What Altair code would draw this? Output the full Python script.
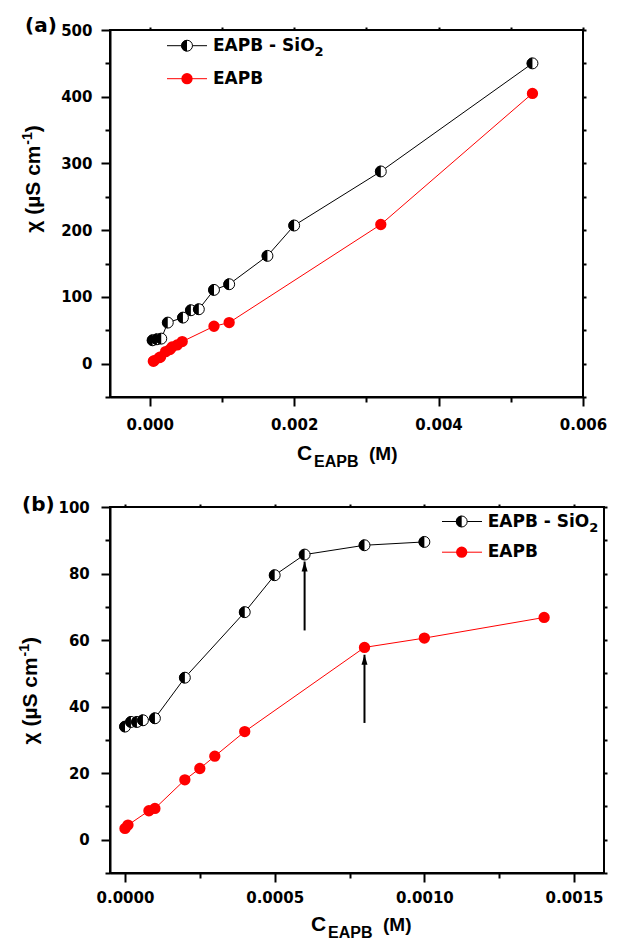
import altair as alt
import pandas as pd

# ---------------- data ----------------
# panel (a)
a_sio2_c = [0.00004, 0.0001, 0.00016, 0.00025, 0.00046, 0.00057, 0.00068, 0.00089, 0.0011, 0.00163, 0.002, 0.0032, 0.0053]
a_sio2_chi = [35, 36.5, 37.5, 61.5, 69, 80, 81.5, 110.5, 119, 161.5, 207, 288, 450]
a_eapb_c = [0.00005, 0.00006, 0.00013, 0.00015, 0.00022, 0.00028, 0.00031, 0.00038, 0.00045, 0.00089, 0.0011, 0.0032, 0.0053]
a_eapb_chi = [3.5, 4.5, 9, 10, 18, 21, 25, 28, 33, 56, 61.5, 208.5, 405]

# panel (b)
b_sio2_c = [0.0, 0.00002, 0.00004, 0.00006, 0.0001, 0.0002, 0.0004, 0.0005, 0.0006, 0.0008, 0.001]
b_sio2_chi = [34.0, 35.4, 35.4, 35.9, 36.5, 48.7, 68.4, 79.5, 85.7, 88.5, 89.5]
b_eapb_c = [0.0, 0.00001, 0.00008, 0.0001, 0.0002, 0.00025, 0.0003, 0.0004, 0.0008, 0.001, 0.0014]
b_eapb_chi = [3.4, 4.4, 8.7, 9.4, 18.0, 21.4, 25.1, 32.5, 57.8, 60.6, 66.8]

# arrows in panel (b)
arrow_c = [0.0006, 0.0008]
arrow_from = [62.9, 35.1]
arrow_to = [83.6, 55.6]

# texts
series_names = ["EAPB - SiO", "EAPB"]
series_sub = "2"
panel_tags = ["(a)", "(b)"]
x_title_parts = ["C", "EAPB", "(M)"]
y_title_parts = ["\u03c7 (\u00b5S cm", "-1", ")"]

# axis ticks (major + minor)
a_x_ticks = [0.0, 0.001, 0.002, 0.003, 0.004, 0.005, 0.006]
a_y_ticks = [-50, 0, 50, 100, 150, 200, 250, 300, 350, 400, 450, 500]
b_x_ticks = [0.0, 0.00025, 0.0005, 0.00075, 0.001, 0.00125, 0.0015]
b_y_ticks = [-10, 0, 10, 20, 30, 40, 50, 60, 70, 80, 90, 100]

LAB = "DejaVu Sans"
TIT = "Liberation Sans"
HALF = "M 0 -1 A 1 1 0 0 0 0 1 Z"
TRI = "M 0 -1 L 0.6 1 L -0.6 1 Z"


def major(step):
    return f"abs(datum.value/{step} - round(datum.value/{step})) < 1e-6"


def text_layer(t, x, y, fs, font=LAB, angle=0, align="left"):
    props = dict(align=align, baseline="middle", font=font, fontWeight="bold",
                 fontSize=fs, color="black")
    if angle:
        props["angle"] = angle
    return alt.Chart(pd.DataFrame({"t": [t]})).mark_text(**props).encode(
        x=alt.value(x), y=alt.value(y), text="t:N")


def panel(sc, sy, ec, ey, xdom, ydom, xt, yt, xstep, ystep, xfmt, W, H,
          red_interp, lpx, lpy, leg, tag, xtit, ytit, arrows=None):
    xs = alt.Scale(domain=xdom, nice=False, zero=False)
    ys = alt.Scale(domain=ydom, nice=False, zero=False)
    ax_b = alt.Axis(orient="bottom", values=xt, title=None, grid=False,
                    labelExpr=f"{major(xstep)} ? format(datum.value, '{xfmt}') : ''",
                    tickSize={"condition": {"test": major(xstep), "value": 9}, "value": 5},
                    labelPadding=lpx, labelFlush=False, labelOverlap=False)
    ax_l = alt.Axis(orient="left", values=yt, title=None, grid=False,
                    labelExpr=f"{major(ystep)} ? format(datum.value, 'd') : ''",
                    tickSize={"condition": {"test": major(ystep), "value": 9}, "value": 5},
                    labelPadding=lpy, labelOverlap=False, labelFlush=False)
    ax_t = alt.Axis(orient="top", values=xt, title=None, grid=False, labels=False,
                    tickSize=3, domain=False)
    ax_r = alt.Axis(orient="right", values=yt, title=None, grid=False, labels=False,
                    tickSize=3, domain=False)
    ds = pd.DataFrame({"x": sc, "y": sy})
    de = pd.DataFrame({"x": ec, "y": ey})

    def X(axis=None):
        return alt.X("x:Q", scale=xs, axis=axis)

    def Y(axis=None):
        return alt.Y("y:Q", scale=ys, axis=axis)

    layers = [
        alt.Chart(ds).mark_line(color="black", strokeWidth=1).encode(x=X(ax_b), y=Y(ax_l)),
        alt.Chart(de).mark_line(color="red", strokeWidth=1, interpolate=red_interp).encode(x=X(ax_t), y=Y(ax_r)),
    ]
    if arrows is not None:
        da = pd.DataFrame({"x": arrows[0], "y0": arrows[1], "y1": arrows[2]})
        layers.append(alt.Chart(da).mark_rule(color="black", strokeWidth=2).encode(
            x=alt.X("x:Q", scale=xs, axis=None), y=alt.Y("y0:Q", scale=ys, axis=None), y2="y1:Q"))
        layers.append(alt.Chart(da).mark_point(shape=TRI, filled=True, fill="black", strokeWidth=0,
                                               size=100, opacity=1, yOffset=5).encode(
            x=alt.X("x:Q", scale=xs, axis=None), y=alt.Y("y1:Q", scale=ys, axis=None)))
    layers += [
        alt.Chart(ds).mark_point(shape="circle", filled=True, fill="white", stroke="black",
                                 strokeWidth=1, size=120, opacity=1).encode(x=X(), y=Y()),
        alt.Chart(ds).mark_point(shape=HALF, filled=True, fill="black", strokeWidth=0,
                                 size=128, opacity=1).encode(x=X(), y=Y()),
        alt.Chart(de).mark_point(shape="circle", filled=True, fill="red", strokeWidth=0,
                                 size=128, opacity=1).encode(x=X(), y=Y()),
    ]
    # legend
    lx0, lx1, lm, lt, ly0, ly1 = leg
    one = pd.DataFrame({"k": [0]})
    layers += [
        alt.Chart(one).mark_rule(color="black", strokeWidth=1).encode(
            x=alt.value(lx0), x2=alt.value(lx1), y=alt.value(ly0)),
        alt.Chart(one).mark_point(shape="circle", filled=True, fill="white", stroke="black",
                                  strokeWidth=1, size=120, opacity=1).encode(
            x=alt.value(lm), y=alt.value(ly0)),
        alt.Chart(one).mark_point(shape=HALF, filled=True, fill="black", strokeWidth=0,
                                  size=128, opacity=1).encode(x=alt.value(lm), y=alt.value(ly0)),
        alt.Chart(one).mark_rule(color="red", strokeWidth=1).encode(
            x=alt.value(lx0), x2=alt.value(lx1), y=alt.value(ly1)),
        alt.Chart(one).mark_point(shape="circle", filled=True, fill="red", strokeWidth=0,
                                  size=128, opacity=1).encode(x=alt.value(lm), y=alt.value(ly1)),
        text_layer(series_names[0], lt, ly0, 17),
        text_layer(series_sub, lt + 101.5, ly0 + 6, 13),
        text_layer(series_names[1], lt, ly1, 17),
    ]
    # tag
    layers.append(text_layer(tag[0], tag[1], tag[2], 20))
    # x title
    cx, cy = xtit
    layers += [
        text_layer(x_title_parts[0], cx, cy, 21, TIT),
        text_layer(x_title_parts[1], cx + 17, cy + 8.5, 16, TIT),
        text_layer(x_title_parts[2], cx + 72, cy, 19, TIT),
    ]
    # y title (rotated)
    tx, ty = ytit
    layers += [
        text_layer(y_title_parts[0], tx, ty, 21, TIT, angle=270),
        text_layer(y_title_parts[1], tx - 6, ty - 88, 14, TIT, angle=270),
        text_layer(y_title_parts[2], tx, ty - 100.5, 21, TIT, angle=270),
    ]
    return alt.layer(*layers).resolve_axis(x="independent", y="independent").properties(
        width=W, height=H)


pa = panel(a_sio2_c, a_sio2_chi, a_eapb_c, a_eapb_chi,
           [-0.00055, 0.006], [-50, 500], a_x_ticks, a_y_ticks, 0.002, 100, ".3f",
           473, 367, "linear", 11, 9,
           (57, 97, 77, 103, 15.7, 48.7), (panel_tags[0], -85, -4.3),
           (187, 423.7), (-76, 202.7))

pb = panel(b_sio2_c, b_sio2_chi, b_eapb_c, b_eapb_chi,
           [-0.00005, 0.0016], [-10, 100], b_x_ticks, b_y_ticks, 0.0005, 20, ".4f",
           494, 366, "linear", 8, 11.7,
           (332, 372, 351.7, 377.7, 14.5, 45.2), (panel_tags[1], -88, -2.5),
           (201, 417.5), (-79, 237.5),
           arrows=(arrow_c, arrow_from, arrow_to))

chart = alt.vconcat(pa, pb, spacing=21).properties(
    padding={"left": 9, "top": 6, "right": 5, "bottom": 5}
).configure_view(stroke="black", strokeWidth=2).configure_axis(
    domainColor="black", domainWidth=2, tickColor="black", tickWidth=2,
    labelFont=LAB, labelFontWeight="bold", labelFontSize=15, labelColor="black"
)

chart.save("out.html", embed_options={"renderer": "svg", "actions": False})
